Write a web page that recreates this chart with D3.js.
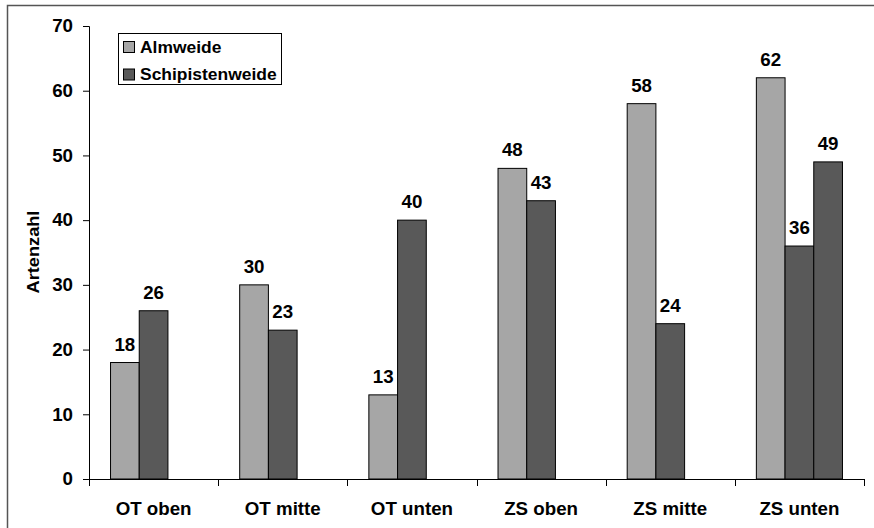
<!DOCTYPE html>
<html><head><meta charset="utf-8">
<script src="https://cdn.jsdelivr.net/npm/d3@7"></script>
<style>body{margin:0;background:#fff}svg{display:block}text{font-family:"Liberation Sans",Arial,sans-serif;font-weight:bold;fill:#000}</style>
</head><body>
<svg id="c" width="874" height="528"></svg>
<script>
const categories = ["OT oben","OT mitte","OT unten","ZS oben","ZS mitte","ZS unten"];
const almweide = [18,30,13,48,58,62];
const schipistenweide = [26,23,40,43,24,36];
const extraSeries = [null,null,null,null,null,49];
const seriesNames = ["Almweide","Schipistenweide",""];
const seriesColors = ["#a6a6a6","#595959","#595959"];
const yTicks = [0,10,20,30,40,50,60,70];

const svg = d3.select("#c");
const x0 = 89, x1 = 864, y0 = 479, y1 = 26;
const FS = 17.5, SX = 1.07;

function label(g, px, py, txt, opts={}) {
  const t = g.append("text")
    .attr("transform", `translate(${px},${py})${opts.rot ? " rotate(" + opts.rot + ")" : ""} scale(${SX},1)`)
    .attr("text-anchor", opts.anchor || "middle")
    .attr("font-size", opts.fs || FS)
    .text(txt);
  if (opts.dy) t.attr("dy", opts.dy);
  return t;
}

svg.append("rect").attr("x",7.5).attr("y",5.5).attr("width",880).attr("height",540)
  .attr("fill","#fff").attr("stroke","#555").attr("stroke-width",1.5);

const x = d3.scaleBand().domain(categories).range([x0,x1]).paddingInner(0).paddingOuter(0);
const y = d3.scaleLinear().domain([0,70]).range([y0,y1]);
const series = [almweide, schipistenweide, extraSeries];
const gap = 1.5;
const bw = x.bandwidth()/(series.length+gap);

series.forEach((vals,si)=>{
  const g = svg.append("g");
  categories.forEach((c,ci)=>{
    const v = vals[ci];
    if (v==null) return;
    const bx = x(c) + bw*gap/2 + si*bw;
    g.append("rect").attr("x",bx).attr("y",y(v)).attr("width",bw).attr("height",y(0)-y(v))
      .attr("fill",seriesColors[si]).attr("stroke","#000").attr("stroke-width",1);
    label(g, bx+bw/2, y(v)-12, v);
  });
});

// y axis
const ya = svg.append("g").attr("transform",`translate(${x0},0)`)
  .call(d3.axisLeft(y).tickValues(yTicks).tickSize(6).tickFormat(""));
ya.select(".domain").attr("stroke","#000");
ya.selectAll(".tick line").attr("stroke","#000");
const ytl = svg.append("g");
yTicks.forEach(t => label(ytl, x0-16, y(t), t, {anchor:"end", dy:"0.36em"}));

// x axis
svg.append("line").attr("x1",x0).attr("x2",x1).attr("y1",y0+0.5).attr("y2",y0+0.5).attr("stroke","#000");
const bounds = categories.map(c=>x(c)).concat([x1]);
svg.selectAll(".xt").data(bounds).enter().append("line")
  .attr("x1",d=>Math.round(d)+0.5).attr("x2",d=>Math.round(d)+0.5).attr("y1",y0).attr("y2",y0+7).attr("stroke","#000");
const xl = svg.append("g");
categories.forEach(c => label(xl, x(c)+x.bandwidth()/2, 515, c));

// y label
label(svg, 38.5, 252, "Artenzahl", {rot:-90, fs:17});

// legend
const lg = svg.append("g");
lg.append("rect").attr("x",118.5).attr("y",33.5).attr("width",163).attr("height",51)
  .attr("fill","#fff").attr("stroke","#000");
[0,1].forEach(i=>{
  const ly = 47 + i*27.5;
  lg.append("rect").attr("x",123.5).attr("y",ly-5.5).attr("width",11).attr("height",11)
    .attr("fill",seriesColors[i]).attr("stroke","#000");
  label(lg, 140, ly+5.5, seriesNames[i], {anchor:"start", fs:16.3});
});
</script>
</body></html>
